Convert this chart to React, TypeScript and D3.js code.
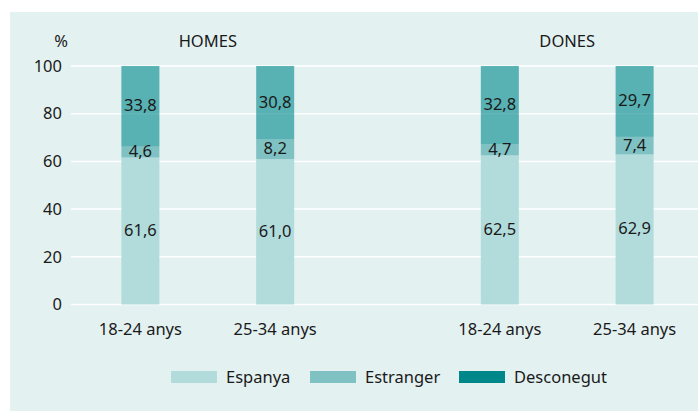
import React from "react";
import * as d3 from "d3";

const groups = ["HOMES", "DONES"];
const ages = ["18-24 anys", "25-34 anys"];
const seriesNames = ["Espanya", "Estranger", "Desconegut"];
const espanya = [61.6, 61.0, 62.5, 62.9];
const estranger = [4.6, 8.2, 4.7, 7.4];
const desconegut = [33.8, 30.8, 32.8, 29.7];
const yTicks = [0, 20, 40, 60, 80, 100];
const colors = ["#b2dbdb", "#80c2c3", "#008789"];
const barOpacity = [1, 1, 0.61];

const W = 698;
const H = 412;
const FONT = "'Noto Sans', 'Open Sans', sans-serif";
const TEXT = "#1a1a1a";
const FS = 16.5;

type Row = { group: string; age: string; Espanya: number; Estranger: number; Desconegut: number };

const rows: Row[] = [];
groups.forEach((g, gi) =>
  ages.forEach((a, ai) => {
    const i = gi * ages.length + ai;
    rows.push({ group: g, age: a, Espanya: espanya[i], Estranger: estranger[i], Desconegut: desconegut[i] });
  })
);

const fmt = (v: number) => d3.format(".1f")(v).replace(".", ",");

export default function App() {
  const y = d3.scaleLinear().domain([0, 100]).range([304.5, 66]);
  const x0 = d3.scaleBand<string>().domain(groups).range([73, 702]).paddingInner(0.25).paddingOuter(0);
  const x1 = d3.scalePoint<string>().domain(ages).range([0, x0.bandwidth()]).padding(0.5);
  const barW = 38;
  const stack = d3.stack<Row>().keys(seriesNames);
  const stacked = stack(rows);
  const cx = (r: Row) => (x0(r.group) as number) + (x1(r.age) as number);

  const legendX = [171, 310, 459];

  return (
    <svg width={W} height={H} style={{ position: "absolute", left: 0, top: 0 }} fontFamily={FONT}>
      <rect x={10} y={12} width={688} height={399} fill="#e3f1f1" />
      {yTicks.map((t) => (
        <g key={t}>
          <line x1={71} x2={698} y1={y(t)} y2={y(t)} stroke="#ffffff" strokeWidth={1.5} />
          <text x={62} y={y(t)} dy="0.35em" textAnchor="end" fontSize={FS} fill={TEXT}>
            {t}
          </text>
        </g>
      ))}
      <text x={61} y={47} textAnchor="middle" fontSize={FS} fill={TEXT}>
        %
      </text>
      {groups.map((g) => (
        <text key={g} x={(x0(g) as number) + x0.bandwidth() / 2} y={47} textAnchor="middle" fontSize={FS} fill={TEXT}>
          {g}
        </text>
      ))}
      {stacked.map((s, si) =>
        s.map((d, i) => (
          <rect
            key={`${si}-${i}`}
            x={cx(d.data) - barW / 2}
            y={y(d[1])}
            width={barW}
            height={y(d[0]) - y(d[1])}
            fill={colors[si]}
            fillOpacity={barOpacity[si]}
          />
        ))
      )}
      {stacked.map((s, si) =>
        s.map((d, i) => (
          <text
            key={`l${si}-${i}`}
            x={cx(d.data)}
            y={(y(d[0]) + y(d[1])) / 2}
            dy="0.3em"
            textAnchor="middle"
            fontSize={FS}
            fill={TEXT}
          >
            {fmt(d[1] - d[0])}
          </text>
        ))
      )}
      {rows.map((r, i) => (
        <text key={`x${i}`} x={cx(r)} y={329} dy="0.35em" textAnchor="middle" fontSize={FS} fill={TEXT}>
          {r.age}
        </text>
      ))}
      {seriesNames.map((n, i) => (
        <g key={n} transform={`translate(${legendX[i]},371)`}>
          <rect x={0} y={0} width={46} height={12} fill={colors[i]} />
          <text x={55} y={6} dy="0.35em" fontSize={FS} fill={TEXT}>
            {n}
          </text>
        </g>
      ))}
    </svg>
  );
}
